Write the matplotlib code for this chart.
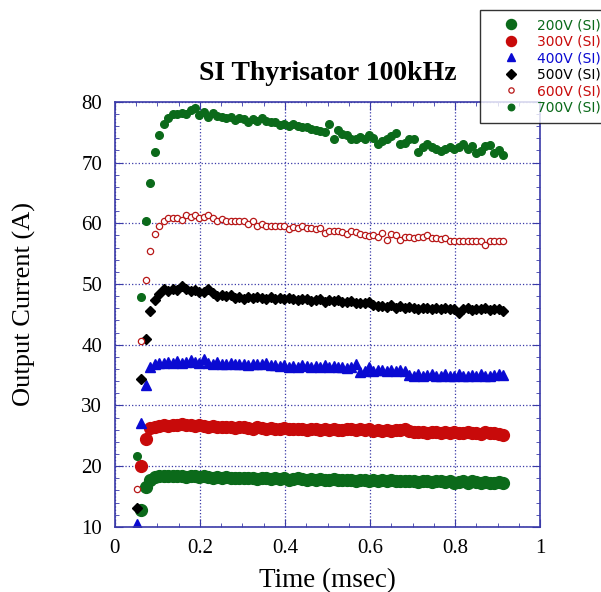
import numpy as np
import matplotlib
matplotlib.use('Agg')
import matplotlib.pyplot as plt
from matplotlib.ticker import MultipleLocator

nan = np.nan

# Time axis (msec)
t_ms = [0.052, 0.062, 0.073, 0.083, 0.094, 0.104, 0.115, 0.125, 0.136, 0.146,
        0.157, 0.167, 0.178, 0.188, 0.199, 0.209, 0.220, 0.230, 0.241, 0.251,
        0.262, 0.272, 0.283, 0.293, 0.304, 0.314, 0.325, 0.335, 0.346, 0.356,
        0.367, 0.377, 0.388, 0.398, 0.409, 0.419, 0.430, 0.440, 0.451, 0.461,
        0.472, 0.482, 0.493, 0.503, 0.514, 0.524, 0.535, 0.545, 0.556, 0.566,
        0.577, 0.587, 0.598, 0.608, 0.619, 0.629, 0.640, 0.650, 0.661, 0.671,
        0.682, 0.692, 0.703, 0.713, 0.724, 0.734, 0.745, 0.755, 0.766, 0.776,
        0.787, 0.797, 0.808, 0.818, 0.829, 0.839, 0.850, 0.860, 0.871, 0.881,
        0.892, 0.902, 0.913]

# Output current (A) per voltage
i_200v = [nan, 12.7, 16.5, 17.8, 18.2, 18.3, 18.4, 18.3, 18.4, 18.3,
          18.4, 18.2, 18.3, 18.3, 18.2, 18.3, 18.2, 18.1, 18.2, 18.1,
          18.2, 18.1, 18.0, 18.1, 18.0, 18.1, 18.0, 17.9, 18.0, 18.1,
          17.9, 18.0, 17.9, 18.0, 17.8, 17.9, 18.0, 17.9, 17.8, 17.9,
          17.8, 17.9, 17.7, 17.8, 17.9, 17.7, 17.8, 17.7, 17.8, 17.6,
          17.7, 17.8, 17.6, 17.7, 17.6, 17.7, 17.5, 17.7, 17.6, 17.5,
          17.6, 17.5, 17.6, 17.4, 17.6, 17.5, 17.4, 17.5, 17.6, 17.4,
          17.5, 17.3, 17.4, 17.5, 17.3, 17.5, 17.4, 17.3, 17.4, 17.2,
          17.3, 17.4, 17.2]

i_300v = [nan, 20.1, 24.4, 26.3, 26.5, 26.6, 26.7, 26.6, 26.8, 26.7,
          26.9, 26.7, 26.8, 26.6, 26.7, 26.6, 26.5, 26.6, 26.4, 26.5,
          26.4, 26.5, 26.3, 26.4, 26.4, 26.3, 26.2, 26.4, 26.3, 26.2,
          26.3, 26.2, 26.1, 26.3, 26.2, 26.1, 26.2, 26.1, 26.0, 26.2,
          26.1, 26.0, 26.2, 26.0, 26.1, 25.9, 26.0, 26.1, 26.2, 26.0,
          26.1, 25.9, 26.2, 25.8, 25.9, 25.8, 25.9, 25.8, 25.9, 26.0,
          26.2, 25.8, 25.7, 25.6, 25.7, 25.5, 25.7, 25.6, 25.5, 25.6,
          25.5, 25.6, 25.4, 25.5, 25.6, 25.4, 25.5, 25.3, 25.6, 25.4,
          25.5, 25.3, 25.2]

i_400v = [10.5, 27.1, 33.4, 36.4, 36.8, 37.0, 37.0, 37.2, 37.0, 37.3,
          37.0, 37.2, 37.5, 37.1, 37.0, 37.6, 37.0, 36.9, 37.1, 36.9,
          36.8, 37.0, 36.9, 36.8, 36.9, 36.7, 36.9, 36.8, 36.8, 37.0,
          36.7, 36.6, 36.5, 36.6, 36.4, 36.5, 36.4, 36.6, 36.5, 36.4,
          36.5, 36.4, 36.6, 36.4, 36.5, 36.3, 36.4, 36.2, 36.4, 36.8,
          35.5, 35.6, 36.3, 35.7, 35.8, 35.9, 35.7, 35.8, 35.6, 35.9,
          35.7, 35.0, 34.9, 35.2, 34.9, 35.0, 35.1, 34.8, 34.9, 35.2,
          34.9, 34.8, 35.1, 34.9, 34.8, 35.0, 34.9, 35.2, 34.9, 34.8,
          35.0, 35.2, 35.0]

i_500v = [13.1, 34.3, 41.0, 45.5, 47.3, 48.4, 49.1, 48.9, 49.2, 49.0,
          49.6, 49.2, 48.9, 49.0, 48.7, 48.6, 49.2, 48.5, 48.0, 48.2,
          48.0, 48.2, 47.7, 47.9, 47.6, 47.8, 47.7, 47.9, 47.7, 47.6,
          47.8, 47.6, 47.7, 47.5, 47.7, 47.6, 47.4, 47.6, 47.5, 47.2,
          47.3, 47.5, 47.1, 47.4, 47.2, 47.3, 47.0, 47.1, 47.2, 46.9,
          46.8, 46.9, 47.0, 46.5, 46.3, 46.4, 46.2, 46.5, 46.1, 46.3,
          46.0, 46.2, 46.1, 45.9, 46.0, 46.1, 45.9, 46.0, 45.8, 46.0,
          45.9, 45.8, 45.3, 45.8, 46.0, 45.7, 45.9, 45.8, 46.0, 45.7,
          45.8, 45.9, 45.5]

i_600v = [16.3, 40.6, 50.7, 55.5, 58.3, 59.5, 60.4, 60.9, 60.8, 60.9,
          60.5, 61.3, 61.0, 61.4, 60.8, 61.0, 61.4, 60.8, 60.4, 60.7,
          60.4, 60.3, 60.4, 60.3, 60.4, 59.9, 60.4, 59.6, 59.9, 59.5,
          59.5, 59.6, 59.5, 59.6, 59.0, 59.4, 59.3, 59.5, 59.3, 59.3,
          59.0, 59.2, 58.4, 58.8, 58.7, 58.8, 58.5, 58.3, 58.7, 58.6,
          58.2, 58.1, 57.9, 58.0, 57.8, 58.4, 57.3, 58.3, 58.0, 57.3,
          57.7, 57.8, 57.6, 57.8, 57.7, 58.0, 57.5, 57.6, 57.4, 57.5,
          57.0, 57.1, 57.0, 57.0, 57.1, 57.0, 57.0, 57.1, 56.4, 57.0,
          57.0, 57.1, 57.0]

i_700v = [21.6, 47.9, 60.4, 66.6, 71.8, 74.6, 76.4, 77.3, 78.0, 78.0,
          78.2, 78.0, 78.6, 79.0, 77.9, 78.3, 77.5, 78.2, 77.6, 77.5,
          77.4, 77.5, 77.0, 77.4, 77.2, 76.7, 77.2, 76.9, 77.3, 76.8,
          76.6, 76.7, 76.2, 76.4, 76.0, 76.3, 76.0, 75.8, 75.9, 75.5,
          75.4, 75.2, 75.0, 76.4, 73.8, 75.3, 74.7, 74.6, 73.8, 73.9,
          74.2, 73.9, 74.5, 74.0, 73.0, 73.5, 73.8, 74.3, 74.8, 73.0,
          73.2, 73.8, 73.9, 71.8, 72.5, 73.1, 72.6, 72.2, 71.9, 72.3,
          72.6, 72.2, 72.6, 73.0, 72.2, 72.8, 71.5, 71.9, 72.8, 72.9,
          71.6, 72.1, 71.3]

labels = ['200V (SI)', '300V (SI)', '400V (SI)', '500V (SI)', '600V (SI)', '700V (SI)']
x_ticks = [0, 0.2, 0.4, 0.6, 0.8, 1]
x_ticklabels = ['0', '0.2', '0.4', '0.6', '0.8', '1']

green = '#0b6a1a'
red = '#c80a0a'
blue = '#0a0ad2'
axis_blue = '#3a3aa8'
serif = 'Liberation Serif'

fig = plt.figure(figsize=(6.01, 5.92), dpi=100)
ax = fig.add_axes([0.191, 0.110, 0.708, 0.718])

ax.plot(t_ms, i_200v, 'o', color=green, ms=8.5, mec=green, label=labels[0])
ax.plot(t_ms, i_300v, 'o', color=red, ms=8.5, mec=red, label=labels[1])
ax.plot(t_ms, i_400v, '^', color=blue, ms=7, mec=blue, label=labels[2])
ax.plot(t_ms, i_500v, 'D', color='black', ms=5.5, mec='black', label=labels[3])
ax.plot(t_ms, i_600v, 'o', mfc='white', mec='#b81818', ms=4.5, mew=0.9, label=labels[4])
ax.plot(t_ms, i_700v, 'o', color=green, ms=5.5, mec=green, label=labels[5])

ax.set_xlim(0, 1)
ax.set_ylim(10, 80)
ax.set_xticks(x_ticks)
ax.set_xticklabels(x_ticklabels)
ax.xaxis.set_minor_locator(MultipleLocator(0.05))
ax.yaxis.set_major_locator(MultipleLocator(10))
ax.yaxis.set_minor_locator(MultipleLocator(2))

ax.grid(True, which='major', color=axis_blue, linestyle=':', linewidth=0.9)
ax.set_axisbelow(True)
for s in ax.spines.values():
    s.set_color(axis_blue)
    s.set_linewidth(1.2)
ax.tick_params(which='both', direction='in', top=True, right=True, colors=axis_blue,
               labelcolor='black', labelsize=15, pad=9)
ax.tick_params(which='major', length=6)
ax.tick_params(which='minor', length=3)
for lab in ax.get_xticklabels() + ax.get_yticklabels():
    lab.set_fontfamily(serif)

ax.set_xlabel('Time (msec)', fontsize=19.5, family=serif, labelpad=7)
ax.set_ylabel('Output Current (A)', fontsize=19, family=serif)
ax.yaxis.set_label_coords(-0.185, 0.525)
ax.set_title('SI Thyrisator 100kHz', fontsize=20, family=serif,
             fontweight='bold', pad=16)

leg = fig.legend(loc='upper left', bbox_to_anchor=(480 / 601, 1 - 10 / 592), frameon=True,
                 fancybox=False, edgecolor='black', prop={'family': 'DejaVu Sans', 'size': 10},
                 handlelength=3.2, handletextpad=0.3, borderpad=0.6, labelspacing=0.18,
                 borderaxespad=0, markerscale=0.85, numpoints=1)
leg.get_frame().set_linewidth(1.0)
text_colors = [green, red, blue, 'black', red, green]
for txt, c in zip(leg.get_texts(), text_colors):
    txt.set_color(c)

fig.savefig('out.png', dpi=100)
